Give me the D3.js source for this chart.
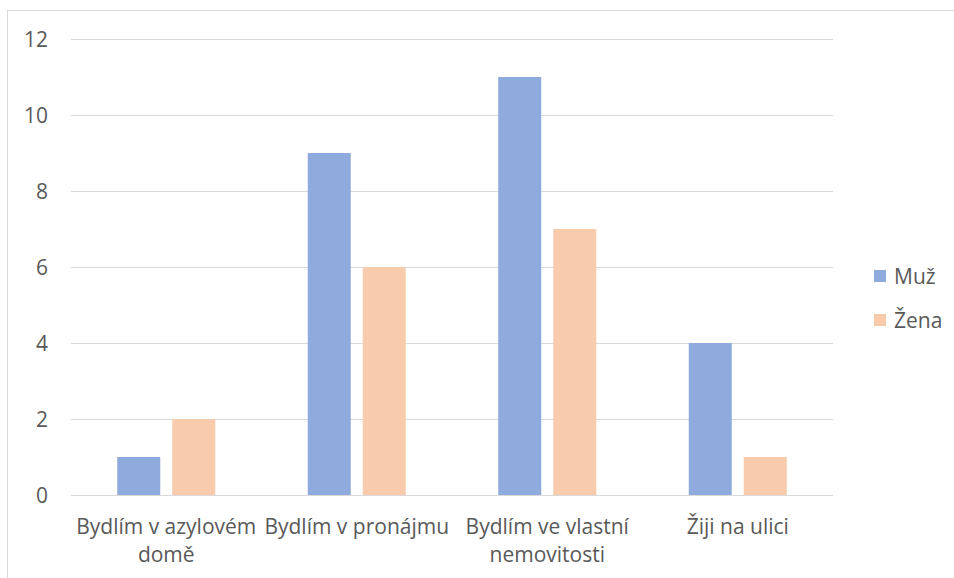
<!DOCTYPE html>
<html>
<head>
<meta charset="utf-8">
<script src="https://cdn.jsdelivr.net/npm/d3@7"></script>
<style>
  html, body { margin: 0; padding: 0; background: #fff; }
  svg text { font-family: "Open Sans", Lato, sans-serif; fill: #595959; }
</style>
</head>
<body>
<svg id="chart" width="954" height="578"></svg>
<script>
const categories = ["Bydlím v azylovém domě", "Bydlím v pronájmu", "Bydlím ve vlastní nemovitosti", "Žiji na ulici"];
const categoryLines = [["Bydlím v azylovém", "domě"], ["Bydlím v pronájmu"], ["Bydlím ve vlastní", "nemovitosti"], ["Žiji na ulici"]];
const seriesNames = ["Muž", "Žena"];
const muz = [1, 9, 11, 4];
const zena = [2, 6, 7, 1];
const yTicks = [0, 2, 4, 6, 8, 10, 12];
const colors = ["#8FAADC", "#F8CBAD"];

(function () {
const svg = d3.select("#chart");
const fontSize = 21;

svg.append("rect").attr("x", 7.5).attr("y", 10.5).attr("width", 960).attr("height", 600)
  .attr("fill", "none").attr("stroke", "#D9D9D9").attr("stroke-width", 1);

const pLeft = 71, pRight = 833, pTop = 39, pBottom = 495;
const y = d3.scaleLinear().domain([0, 12]).range([pBottom, pTop]);
const x0 = d3.scaleBand().domain(categories).range([pLeft, pRight]).padding(0);
const groupW = 98;
const x1 = d3.scaleBand().domain(seriesNames).range([0, groupW]).paddingInner(2 - 98 / 55);

svg.append("g").selectAll("line").data(yTicks).join("line")
  .attr("x1", pLeft).attr("x2", pRight)
  .attr("y1", d => y(d) + 0.5).attr("y2", d => y(d) + 0.5)
  .attr("stroke", "#D9D9D9").attr("stroke-width", 1);

svg.append("g").selectAll("text").data(yTicks).join("text")
  .attr("x", 48).attr("y", d => y(d)).attr("dy", "0.36em")
  .attr("text-anchor", "end").attr("font-size", fontSize).text(d => d);

const data = categories.map((c, i) => ({ c, vals: [muz[i], zena[i]] }));
const groups = svg.append("g").selectAll("g").data(data).join("g")
  .attr("transform", d => `translate(${x0(d.c) + (x0.bandwidth() - groupW) / 2},0)`);
groups.selectAll("rect").data(d => d.vals.map((v, j) => ({ s: seriesNames[j], v, j }))).join("rect")
  .attr("x", d => x1(d.s)).attr("width", x1.bandwidth())
  .attr("y", d => y(d.v)).attr("height", d => y(0) - y(d.v))
  .attr("fill", d => colors[d.j]);

const xl = svg.append("g").selectAll("text").data(categories).join("text")
  .attr("x", d => x0(d) + x0.bandwidth() / 2).attr("y", 534)
  .attr("text-anchor", "middle").attr("font-size", fontSize);
xl.selectAll("tspan").data((d, i) => categoryLines[i]).join("tspan")
  .attr("x", function () { return this.parentNode.getAttribute("x"); })
  .attr("dy", (d, i) => i === 0 ? 0 : 28).text(d => d);

const leg = svg.append("g").selectAll("g").data(seriesNames).join("g")
  .attr("transform", (d, i) => `translate(874, ${270 + i * 44})`);
leg.append("rect").attr("width", 12).attr("height", 12).attr("fill", (d, i) => colors[i]);
leg.append("text").attr("x", 20).attr("y", 6).attr("dy", "0.36em").attr("font-size", fontSize).text(d => d);
})();
</script>
</body>
</html>
